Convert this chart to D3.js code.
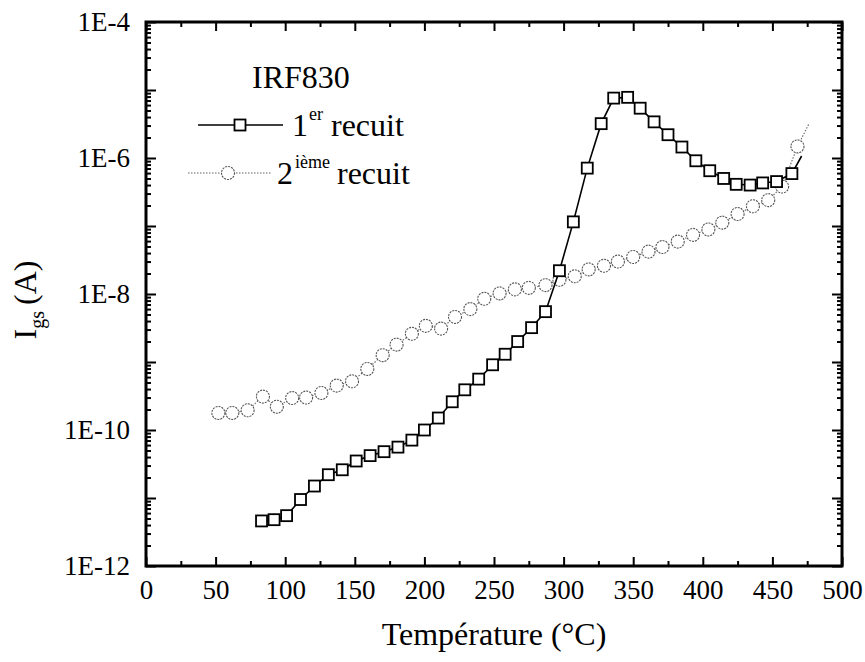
<!DOCTYPE html>
<html>
<head>
<meta charset="utf-8">
<script src="https://cdn.jsdelivr.net/npm/d3@7"></script>
<style>
  body { margin: 0; background: #fff; }
</style>
</head>
<body>
<div id="chart"></div>
<script>
// 1er recuit (squares) - temperature (°C) and gate current (A)
const temp1 = [83, 92, 101, 111, 121, 131, 141, 151, 161, 171, 181, 191, 200, 210, 220, 229, 239, 249,
  258, 267, 277, 287, 297, 307, 317, 327, 336, 346, 355, 365, 375, 385, 395, 405, 415, 424, 434, 443,
  453, 464, 471]
const igs1 = [4.6e-12, 4.8e-12, 5.5e-12, 9.5e-12, 1.5e-11, 2.2e-11, 2.6e-11, 3.5e-11, 4.2e-11, 4.8e-11,
  5.6e-11, 7.1e-11, 1.0e-10, 1.5e-10, 2.6e-10, 3.9e-10, 5.6e-10, 9.1e-10, 1.3e-9, 2.0e-9, 3.2e-9,
  5.5e-9, 2.2e-8, 1.15e-7, 7.1e-7, 3.2e-6, 7.6e-6, 7.8e-6, 5.4e-6, 3.4e-6, 2.2e-6, 1.45e-6, 9.1e-7,
  6.5e-7, 5.0e-7, 4.1e-7, 4.0e-7, 4.3e-7, 4.5e-7, 5.9e-7, 1.07e-6]

// 2ième recuit (circles)
const temp2 = [52, 62, 73, 84, 94, 105, 115, 126, 137, 148, 159, 170, 180, 191, 201, 212, 222, 233,
  243, 254, 265, 275, 287, 297, 308, 318, 329, 339, 350, 361, 371, 382, 393, 404, 414, 425, 436, 447,
  457, 468, 476]
const igs2 = [1.78e-10, 1.78e-10, 1.95e-10, 3.1e-10, 2.2e-10, 2.95e-10, 3.0e-10, 3.5e-10, 4.5e-10,
  5.2e-10, 7.9e-10, 1.26e-9, 1.8e-9, 2.6e-9, 3.4e-9, 3.1e-9, 4.6e-9, 6.0e-9, 8.5e-9, 1.02e-8, 1.17e-8,
  1.23e-8, 1.35e-8, 1.62e-8, 1.82e-8, 2.3e-8, 2.6e-8, 3.0e-8, 3.5e-8, 4.2e-8, 4.9e-8, 5.9e-8, 7.4e-8,
  8.9e-8, 1.12e-7, 1.5e-7, 1.95e-7, 2.4e-7, 3.8e-7, 1.48e-6, 3.1e-6]

// the last point of each series is only reached by the line, no symbol drawn there
const symbolCount1 = temp1.length - 1
const symbolCount2 = temp2.length - 1

const xMajorTicks = [0, 50, 100, 150, 200, 250, 300, 350, 400, 450, 500]
const xMinorTicks = [25, 75, 125, 175, 225, 275, 325, 375, 425, 475]
const yDecades = [-12, -11, -10, -9, -8, -7, -6, -5, -4]
const yLabelled = [-12, -10, -8, -6, -4]

const FONT = "'Liberation Serif', 'Times New Roman', Times, serif"
const width = 865, height = 662
const frame = {left: 146, right: 842, top: 22, bottom: 566}

const svg = d3.select("#chart").append("svg")
    .attr("width", width)
    .attr("height", height)
    .attr("font-family", FONT)

const x = d3.scaleLinear().domain([0, 500]).range([frame.left, frame.right])
const y = d3.scaleLog().domain([1e-12, 1e-4]).range([frame.bottom, frame.top])

const majorY = yDecades.map(e => Math.pow(10, e))
const minorY = []
yDecades.slice(0, -1).forEach(e => {
    for (let k = 2; k <= 9; k++) minorY.push(k * Math.pow(10, e))
})

function styleAxis(g){
    g.attr("font-family", FONT)
    g.select(".domain").remove()
    g.selectAll(".tick line").attr("stroke", "#000").attr("stroke-width", 2)
}

// bottom axis
svg.append("g")
    .attr("transform", `translate(0,${frame.bottom})`)
    .call(d3.axisBottom(x).tickValues(xMajorTicks).tickSize(-9).tickPadding(14).tickFormat(d3.format("d")))
    .call(styleAxis)
    .selectAll("text")
    .attr("font-size", 27)
    .attr("dy", "0.7em")
svg.append("g")
    .attr("transform", `translate(0,${frame.bottom})`)
    .call(d3.axisBottom(x).tickValues(xMinorTicks).tickSize(-5).tickFormat(""))
    .call(styleAxis)

// top axis
svg.append("g")
    .attr("transform", `translate(0,${frame.top})`)
    .call(d3.axisTop(x).tickValues(xMajorTicks).tickSize(-9).tickFormat(""))
    .call(styleAxis)
svg.append("g")
    .attr("transform", `translate(0,${frame.top})`)
    .call(d3.axisTop(x).tickValues(xMinorTicks).tickSize(-5).tickFormat(""))
    .call(styleAxis)

// left axis
svg.append("g")
    .attr("transform", `translate(${frame.left},0)`)
    .call(d3.axisLeft(y).tickValues(majorY).tickSize(-10).tickPadding(16)
        .tickFormat(d => {
            const e = Math.round(Math.log10(d))
            return yLabelled.includes(e) ? "1E" + e : ""
        }))
    .call(styleAxis)
    .selectAll("text")
    .attr("font-size", 27)
svg.append("g")
    .attr("transform", `translate(${frame.left},0)`)
    .call(d3.axisLeft(y).tickValues(minorY).tickSize(-5).tickFormat(""))
    .call(styleAxis)

// right axis
svg.append("g")
    .attr("transform", `translate(${frame.right},0)`)
    .call(d3.axisRight(y).tickValues(majorY).tickSize(-10).tickFormat(""))
    .call(styleAxis)
svg.append("g")
    .attr("transform", `translate(${frame.right},0)`)
    .call(d3.axisRight(y).tickValues(minorY).tickSize(-5).tickFormat(""))
    .call(styleAxis)

// frame
svg.append("rect")
    .attr("x", frame.left)
    .attr("y", frame.top)
    .attr("width", frame.right - frame.left)
    .attr("height", frame.bottom - frame.top)
    .attr("fill", "none")
    .attr("stroke", "#000")
    .attr("stroke-width", 3)

// series
const line = d3.line().x(d => x(d[0])).y(d => y(d[1]))
const pts1 = temp1.map((t, i) => [t, igs1[i]])
const pts2 = temp2.map((t, i) => [t, igs2[i]])

svg.append("path")
    .attr("d", line(pts2))
    .attr("fill", "none")
    .attr("stroke", "#666")
    .attr("stroke-width", 1.1)
    .attr("stroke-dasharray", "1.5,1.5")

svg.append("g").selectAll("circle")
    .data(pts2.slice(0, symbolCount2))
    .join("circle")
    .attr("cx", d => x(d[0]))
    .attr("cy", d => y(d[1]))
    .attr("r", 6.5)
    .attr("fill", "#fff")
    .attr("stroke", "#555")
    .attr("stroke-width", 1.1)
    .attr("stroke-dasharray", "2,1")

svg.append("path")
    .attr("d", line(pts1))
    .attr("fill", "none")
    .attr("stroke", "#000")
    .attr("stroke-width", 1.6)

svg.append("g").selectAll("rect")
    .data(pts1.slice(0, symbolCount1))
    .join("rect")
    .attr("x", d => x(d[0]) - 5.5)
    .attr("y", d => y(d[1]) - 5.5)
    .attr("width", 11)
    .attr("height", 11)
    .attr("fill", "#fff")
    .attr("stroke", "#000")
    .attr("stroke-width", 1.8)

// legend
const legend = svg.append("g")
legend.append("text")
    .attr("x", 252).attr("y", 88)
    .attr("font-size", 32)
    .text("IRF830")

legend.append("line")
    .attr("x1", 198).attr("x2", 283).attr("y1", 125).attr("y2", 125)
    .attr("stroke", "#000").attr("stroke-width", 1.6)
legend.append("rect")
    .attr("x", 234.5).attr("y", 119.5).attr("width", 11).attr("height", 11)
    .attr("fill", "#fff").attr("stroke", "#000").attr("stroke-width", 1.8)
const t1 = legend.append("text").attr("x", 292).attr("y", 136).attr("font-size", 32)
t1.append("tspan").text("1")
t1.append("tspan").attr("font-size", 18).attr("dy", -16).attr("dx", 1).text("er")
t1.append("tspan").attr("dy", 16).attr("dx", 8).text("recuit")

legend.append("line")
    .attr("x1", 188).attr("x2", 272).attr("y1", 173).attr("y2", 173)
    .attr("stroke", "#666").attr("stroke-width", 1.1).attr("stroke-dasharray", "1.5,1.5")
legend.append("circle")
    .attr("cx", 228).attr("cy", 173).attr("r", 6.5)
    .attr("fill", "#fff").attr("stroke", "#555").attr("stroke-width", 1.1).attr("stroke-dasharray", "2,1")
const t2 = legend.append("text").attr("x", 277).attr("y", 184).attr("font-size", 32)
t2.append("tspan").text("2")
t2.append("tspan").attr("font-size", 18).attr("dy", -16).attr("dx", 2).text("ième")
t2.append("tspan").attr("dy", 16).attr("dx", 7).text("recuit")

// axis titles
svg.append("text")
    .attr("x", (frame.left + frame.right) / 2)
    .attr("y", 645)
    .attr("text-anchor", "middle")
    .attr("font-size", 32)
    .text("Température (°C)")

const yt = svg.append("text")
    .attr("transform", "translate(36,300) rotate(-90)")
    .attr("text-anchor", "middle")
    .attr("font-size", 32)
yt.append("tspan").text("I")
yt.append("tspan").attr("font-size", 20).attr("dy", 8).text("gs")
yt.append("tspan").attr("dy", -8).attr("dx", 6).text("(A)")
</script>
</body>
</html>
